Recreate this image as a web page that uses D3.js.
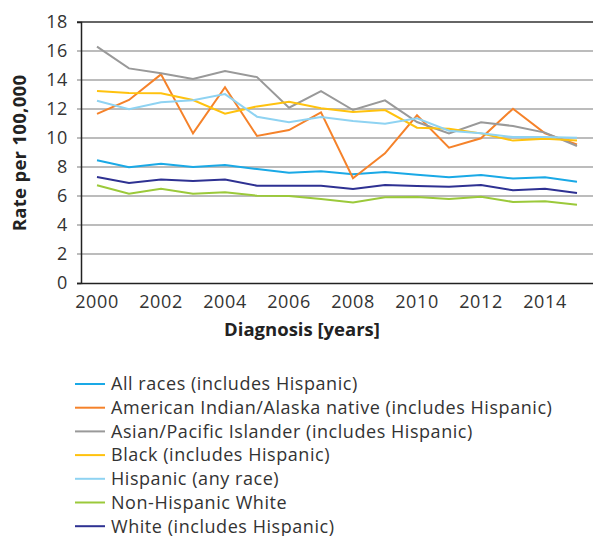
<!DOCTYPE html>
<html><head><meta charset="utf-8">
<script src="https://cdn.jsdelivr.net/npm/d3@7"></script>
<style>body{margin:0;background:#fff}svg{display:block}text{font-family:"Open Sans",sans-serif}</style>
</head><body><svg id="c" width="593" height="536"></svg>
<script>
const years = d3.range(2000, 2016);
const tickYears = [2000, 2002, 2004, 2006, 2008, 2010, 2012, 2014];
const yTicks = [0, 2, 4, 6, 8, 10, 12, 14, 16, 18];
const seriesNames = ["All races (includes Hispanic)", "American Indian/Alaska native (includes Hispanic)", "Asian/Pacific Islander (includes Hispanic)", "Black (includes Hispanic)", "Hispanic (any race)", "Non-Hispanic White", "White (includes Hispanic)"];
const seriesColors = ["#1aa9e6", "#f5822a", "#999999", "#ffc20e", "#8fd3f2", "#9bc93a", "#2e3192"];
const allRaces = [8.46, 7.98, 8.23, 8.0, 8.14, 7.86, 7.61, 7.7, 7.5, 7.66, 7.47, 7.29, 7.45, 7.2, 7.29, 6.99];
const amIndian = [11.66, 12.62, 14.39, 10.32, 13.5, 10.14, 10.55, 11.77, 7.22, 8.94, 11.57, 9.33, 9.98, 12.02, 10.32, 9.56];
const asianPI = [16.3, 14.8, 14.46, 14.07, 14.62, 14.2, 12.09, 13.24, 11.93, 12.6, 11.1, 10.32, 11.08, 10.83, 10.37, 9.45];
const black = [13.24, 13.1, 13.08, 12.62, 11.68, 12.18, 12.5, 12.05, 11.8, 11.93, 10.71, 10.64, 10.32, 9.82, 9.95, 9.82];
const hispanic = [12.57, 11.98, 12.46, 12.6, 13.03, 11.47, 11.08, 11.45, 11.17, 10.99, 11.36, 10.5, 10.32, 10.07, 10.07, 10.02];
const nonHispWhite = [6.74, 6.16, 6.5, 6.16, 6.25, 6.02, 6.0, 5.8, 5.56, 5.91, 5.93, 5.79, 5.95, 5.59, 5.63, 5.4];
const white = [7.31, 6.9, 7.13, 7.03, 7.13, 6.71, 6.71, 6.7, 6.48, 6.76, 6.69, 6.64, 6.76, 6.39, 6.5, 6.21];
const seriesValues = [allRaces, amIndian, asianPI, black, hispanic, nonHispWhite, white];

const svg = d3.select("#c");
const mLeft = 81, mRight = 593, mTop = 22, mBottom = 283;
const x = d3.scaleBand().domain(years).range([mLeft, mRight]);
const xc = v => x(v) + x.bandwidth() / 2;
const y = d3.scaleLinear().domain([0, 18]).range([mBottom, mTop]);

// gridlines
svg.append("g").selectAll("line").data(yTicks.filter(t => t > 0)).join("line")
  .attr("x1", mLeft - 4).attr("x2", mRight).attr("y1", d => y(d)).attr("y2", d => y(d))
  .attr("stroke", d => d === 18 ? "#333" : "#a6a6a6").attr("stroke-width", 1.5);

// y axis
const yAxis = svg.append("g").attr("transform", `translate(${mLeft},0)`)
  .call(d3.axisLeft(y).tickValues(yTicks).tickSize(4).tickPadding(9));
yAxis.select(".domain").attr("stroke", "#222").attr("stroke-width", 1.5);
yAxis.selectAll(".tick line").attr("stroke", d => d === 0 ? "#222" : "none").attr("stroke-width", 1.5);
yAxis.selectAll("text").attr("font-size", 18).attr("letter-spacing", 0.6).attr("fill", "#333").attr("font-family", "Open Sans");

// x axis
const xAxis = svg.append("g").attr("transform", `translate(0,${mBottom})`)
  .call(d3.axisBottom(x).tickValues(tickYears).tickSize(0).tickPadding(12));
xAxis.select(".domain").attr("stroke", "#222").attr("stroke-width", 1.5);
xAxis.selectAll("text").attr("font-size", 18).attr("letter-spacing", 0.6).attr("fill", "#333").attr("font-family", "Open Sans");

// lines
const line = d3.line().x((d, i) => xc(years[i])).y(d => y(d));
svg.append("g").selectAll("path").data(seriesValues).join("path")
  .attr("d", line).attr("fill", "none")
  .attr("stroke", (d, i) => seriesColors[i]).attr("stroke-width", 2);

// titles
svg.append("text").attr("x", 302).attr("y", 336).attr("text-anchor", "middle")
  .attr("font-size", 18.5).attr("font-weight", "bold").attr("fill", "#222").text("Diagnosis [years]");
svg.append("text").attr("transform", "translate(26,153) rotate(-90)").attr("text-anchor", "middle")
  .attr("font-size", 18.5).attr("letter-spacing", 0.3).attr("font-weight", "bold").attr("fill", "#222").text("Rate per 100,000");

// legend
const lg = svg.append("g").selectAll("g").data(seriesNames).join("g")
  .attr("transform", (d, i) => `translate(75,${384 + i * 23.7})`);
lg.append("line").attr("x1", 0).attr("x2", 30).attr("stroke", (d, i) => seriesColors[i]).attr("stroke-width", 2);
lg.append("text").attr("x", 36).attr("dy", "0.35em").attr("font-size", 18).attr("letter-spacing", 0.55).attr("fill", "#333").text(d => d);
</script></body></html>
